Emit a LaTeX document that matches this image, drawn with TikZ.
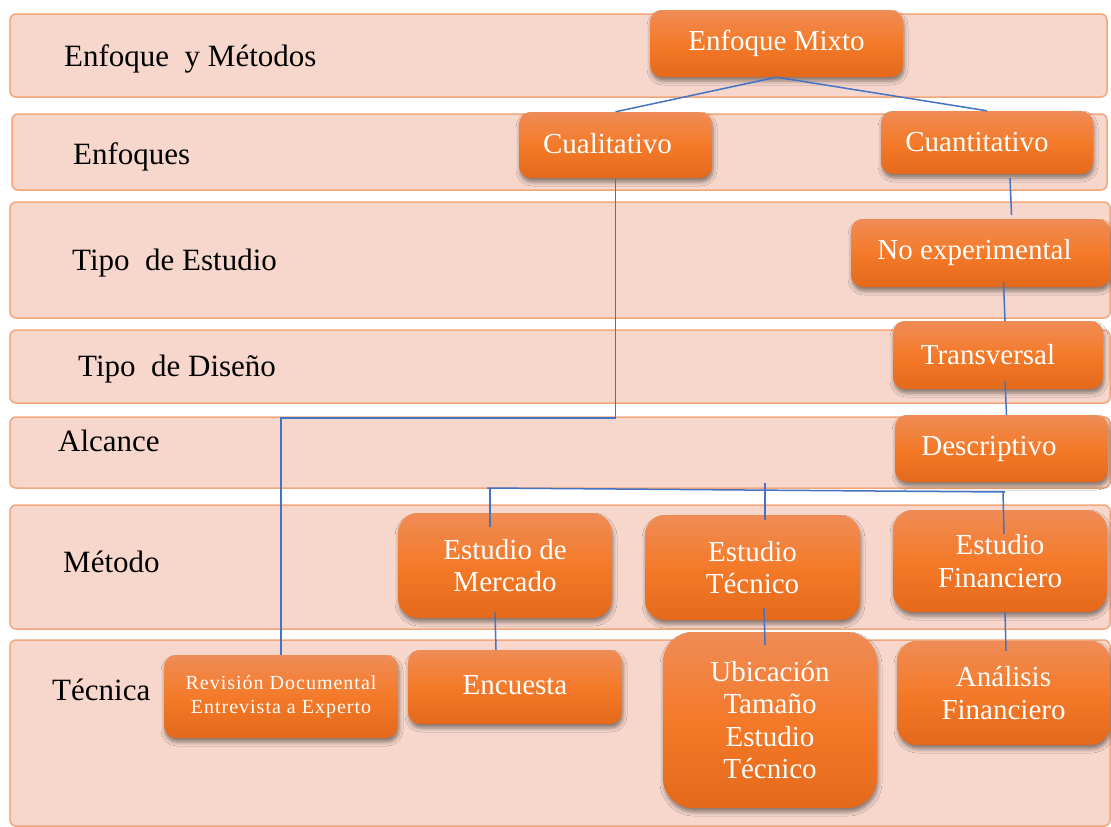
\documentclass[tikz,border=0pt]{standalone}
\usepackage{fontspec}
\setmainfont{Liberation Serif}
\usetikzlibrary{shadows.blur}
\definecolor{bandfill}{HTML}{F7D7CC}
\definecolor{bandline}{HTML}{F2A679}
\definecolor{otop}{HTML}{EF8C56}
\definecolor{omid}{HTML}{F47A29}
\definecolor{obot}{HTML}{E4691B}
\definecolor{conn}{HTML}{4472C4}
\begin{document}
\begin{tikzpicture}[x=1pt,y=-1pt,
  band/.style={draw=bandline, line width=1.5pt, fill=bandfill, rounded corners=6pt},
  box/.style={rounded corners=12pt, top color=otop, bottom color=obot, middle color=omid,
    text=white, align=center, font=\fontsize{29}{32.5}\selectfont, inner sep=2pt,
    blur shadow={shadow xshift=1pt, shadow yshift=-4pt, shadow blur radius=4pt, shadow opacity=45}},
  lbl/.style={anchor=base west, inner sep=0pt, font=\fontsize{31}{34}\selectfont},
  link/.style={draw=conn, line width=1.5pt}]
\useasboundingbox (0,0) rectangle (1111,827);
\fill[white] (0,0) rectangle (1111,827);
% bands
\path[band] (10,14) rectangle (1107,97);
\path[band] (12,114) rectangle (1107,190);
\path[band] (10,202) rectangle (1110,318);
\path[band] (10,330) rectangle (1110,403);
\path[band] (10,417) rectangle (1110,488);
\path[band] (10,505) rectangle (1110,629);
\path[band] (10,640) rectangle (1110,826);
% row labels
\node[lbl] (l1) at (64,66) {Enfoque\ \ y Métodos};
\node[lbl] (l2) at (73,164) {Enfoques};
\node[lbl] (l3) at (72,270) {Tipo\ \ de Estudio};
\node[lbl] (l4) at (78,376) {Tipo\ \ de Diseño};
\node[lbl] (l5) at (58,451) {Alcance};
\node[lbl] (l6) at (63,572) {Método};
\node[lbl] (l7) at (52,700) {Técnica};
% boxes
\node[box, minimum width=253pt, minimum height=67pt] (mixto) at (776.5,43.5) {\raisebox{3pt}{Enfoque Mixto}};
\node[box, minimum width=193pt, minimum height=66pt] (cuali) at (615.5,145) {\raisebox{3pt}{Cualitativo}\hspace*{16pt}};
\node[box, minimum width=212pt, minimum height=63pt] (cuanti) at (987,142.5) {Cuantitativo\hspace*{20pt}};
\node[box, minimum width=259pt, minimum height=68pt] (noexp) at (980.5,253) {No experimental\hspace*{12pt}};
\node[box, minimum width=210pt, minimum height=68pt] (trans) at (998,355) {Transversal\hspace*{20pt}};
\node[box, minimum width=213pt, minimum height=67pt] (desc) at (1001.5,448.5) {Descriptivo\hspace*{25pt}};
\node[box, rounded corners=20pt, minimum width=214pt, minimum height=105pt] (mercado) at (505,565.5) {Estudio de\\Mercado};
\node[box, rounded corners=20pt, minimum width=215pt, minimum height=105pt] (tecnico) at (752.5,567.5) {Estudio\\Técnico};
\node[box, rounded corners=20pt, minimum width=214pt, minimum height=102pt] (finan) at (1000,561) {Estudio\\Financiero};
\node[box, minimum width=234pt, minimum height=83pt, font=\fontsize{20}{23.5}\selectfont\addfontfeature{LetterSpace=5}] (revision) at (281,696.5) {Revisión Documental\\Entrevista a Experto};
\node[box, minimum width=214pt, minimum height=74pt] (encuesta) at (515,687) {\raisebox{4pt}{Encuesta}};
\node[box, rounded corners=30pt, minimum width=214pt, minimum height=176pt] (ubic) at (770,720) {Ubicación\\Tamaño\\Estudio\\Técnico};
\node[box, rounded corners=20pt, minimum width=213pt, minimum height=104pt] (anal) at (1003.5,693) {Análisis\\Financiero};
% connectors
\coordinate (bend) at (0,418);
\coordinate (busL) at (487,488);
\coordinate (busR) at (1005,492);
\coordinate (tM) at (490,489);
\coordinate (tT) at (765,483);
\coordinate (tF) at (1003,491);
\draw[link] (mixto.south) -- (cuali.north);
\draw[link] (mixto.south) -- (cuanti.north);
\draw[link] (cuali.south) -- (cuali.south |- bend) -- (revision.north |- bend) -- (revision.north);
\draw[link] ([xshift=23pt,yshift=-4pt]cuanti.south) -- ([xshift=31pt,yshift=4pt]noexp.north);
\draw[link] ([xshift=23pt,yshift=5pt]noexp.south) -- ([xshift=7pt]trans.north);
\draw[link] ([xshift=7pt,yshift=8pt]trans.south) -- ([xshift=5pt]desc.north);
\draw[link] (busL) -- (busR);
\draw[link] (tM) -- ([xshift=-15pt,yshift=-14pt]mercado.north);
\draw[link] (tT) -- ([xshift=12.5pt,yshift=-5pt]tecnico.north);
\draw[link] (tF) -- ([xshift=4pt,yshift=-24pt]finan.north);
\draw[link] ([xshift=-10pt,yshift=6pt]mercado.south) -- ([xshift=-19pt]encuesta.north);
\draw[link] ([xshift=11.5pt,yshift=12pt]tecnico.south) -- ([xshift=-5pt,yshift=-13pt]ubic.north);
\draw[link] ([xshift=5pt]finan.south) -- ([xshift=2.5pt,yshift=-10pt]anal.north);
\end{tikzpicture}
\end{document}
